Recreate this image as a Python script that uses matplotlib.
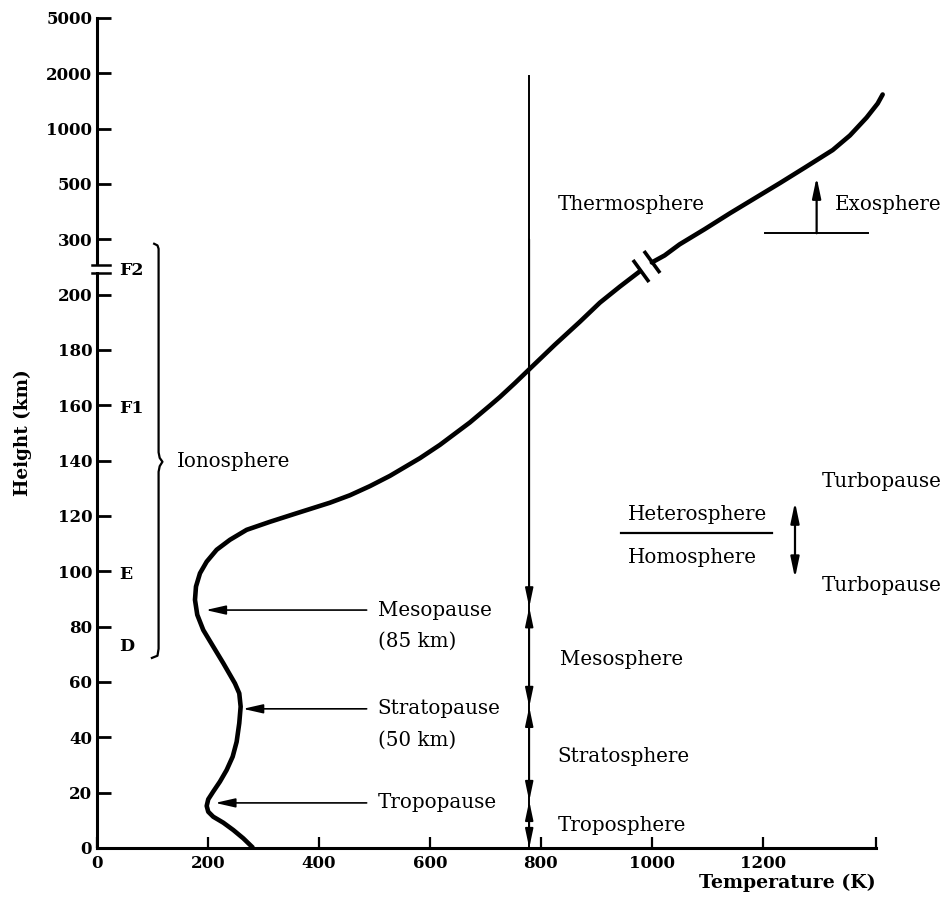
import numpy as np
import matplotlib
matplotlib.use('Agg')
import matplotlib.pyplot as plt
from matplotlib.markers import MarkerStyle
from matplotlib.transforms import Affine2D
from matplotlib.patches import Rectangle

# ---------------- data ----------------
height_ticks = [0, 20, 40, 60, 80, 100, 120, 140, 160, 180, 200, 300, 500, 1000, 2000, 5000]
height_labels = [str(v) for v in height_ticks]
temp_ticks = [0, 200, 400, 600, 800, 1000, 1200]
temp_labels = [str(v) for v in temp_ticks]

# compressed height axis: km -> axis position
scale_km = [0, 200, 300, 500, 1000, 2000, 5000]
scale_pos = [0, 10, 11, 12, 13, 14, 15]

# temperature profile, lower part (below the curve break)
low_T = [281.6, 263.6, 245.6, 227.6, 209.5, 200.5, 197.7, 200.5, 209.5, 221.6, 233.7,
         244.5, 251.7, 256.4, 258.9, 256.4, 248.6, 227.6, 209.5, 191.5, 180.7, 176.6,
         178.4, 185.6, 197.7, 215.7, 239.6, 269.7, 311.7, 356.8, 419.8, 455.9, 491.9,
         527.9, 582, 618, 672, 708.1, 726.1, 753, 778.4, 825.2, 870.3, 906.3, 942.3,
         980.2]
low_km = [0, 3.5, 6.5, 9.15, 11.3, 13.1, 15.2, 17.6, 20.4, 24, 28.2,
          33, 38.4, 45.1, 51.1, 55.9, 59.5, 66.8, 72.8, 78.8, 84.3, 89.7,
          94.5, 99.3, 103.5, 107.8, 111.4, 115, 117.9, 120.8, 124.8, 127.5, 130.8,
          134.5, 140.9, 145.7, 153.8, 159.9, 163, 168, 172.9, 181.9, 190.2, 197.1, 214.5,
          243.6]
# temperature profile, upper part (above the break)
up_T = [1000, 1023, 1050, 1095, 1141, 1186, 1231, 1276, 1326, 1357, 1387, 1407, 1416]
up_km = [258.2, 270.9, 290.9, 336.4, 394.5, 449, 508.8, 649, 807, 938.6, 1200, 1454.5, 1618]

line_T = 779            # vertical reference line
line_top = 1950
layer_bounds = [87, 51, 17, 0]   # arrow meeting points on the vertical line

# ---------------- figure ----------------
W, H = 950, 909
fig = plt.figure(figsize=(W / 100, H / 100), dpi=100)
ax = fig.add_axes([97 / W, 61 / H, (876 - 97) / W, (848 - 18) / H])

def fwd(h):
    h = np.asarray(h, dtype=float)
    return np.interp(h, scale_km, scale_pos)

def inv(p):
    p = np.asarray(p, dtype=float)
    return np.interp(p, scale_pos, scale_km)

ax.set_yscale('function', functions=(fwd, inv))
ax.set_ylim(0, 5000)
ax.set_xlim(0, 1404)

FONT = 'DejaVu Serif'
plt.rcParams['font.family'] = FONT
FS = 14.3

for s in ['top', 'right']:
    ax.spines[s].set_visible(False)
for s in ['left', 'bottom']:
    ax.spines[s].set_linewidth(2.2)

ax.set_yticks(height_ticks)
ax.set_yticklabels(height_labels, family=FONT, fontweight='bold', fontsize=12)
ax.set_xticks(temp_ticks + [1404])
ax.set_xticklabels(temp_labels + [''], family=FONT, fontweight='bold', fontsize=12)
ax.yaxis.set_minor_locator(matplotlib.ticker.NullLocator())
ax.tick_params(axis='y', direction='in', length=10, width=2, pad=3.5)
ax.tick_params(axis='x', direction='in', length=8, width=1.6, pad=5)

ax.set_ylabel('Height (km)', family=FONT, fontweight='bold', fontsize=13.2, labelpad=10)
ax.text(1.0, -0.042, 'Temperature (K)', transform=ax.transAxes, ha='right', va='center',
        family=FONT, fontweight='bold', fontsize=13.6)

# temperature curve
ax.plot(low_T, low_km, color='black', lw=3.3, solid_capstyle='butt',
        solid_joinstyle='round', clip_on=False)
ax.plot(up_T, up_km, color='black', lw=3.3, solid_capstyle='round',
        solid_joinstyle='round', clip_on=False)

# break marks on curve
def disp(t, h):
    return ax.transData.transform((t, h))
p1 = disp(low_T[-1], low_km[-1])
p2 = disp(up_T[0], up_km[0])
ang = np.degrees(np.arctan2(p2[1] - p1[1], p2[0] - p1[0]))
mk = MarkerStyle('|', transform=Affine2D().rotate_deg(ang))
ax.plot([low_T[-1], up_T[0]], [low_km[-1], up_km[0]], linestyle='none', marker=mk,
        markersize=19, markeredgewidth=2.6, color='black', clip_on=False)

# y-axis break
ax.add_patch(Rectangle((-12, 241), 24, 13, facecolor='white', edgecolor='none',
                       zorder=5, clip_on=False))
for hb in (240, 254.5):
    ax.plot([-9, 23], [hb, hb], color='black', lw=1.8, clip_on=False, zorder=6)

# vertical line with arrows
ax.plot([line_T, line_T], [0, line_top], color='black', lw=1.4)
hs = '-|>,head_length=0.95,head_width=0.2'
hd = '<|-|>,head_length=0.95,head_width=0.2'
ax.annotate('', xy=(line_T, layer_bounds[0]), xytext=(line_T, 300),
            arrowprops=dict(arrowstyle=hs, color='black', lw=1.3, shrinkA=0, shrinkB=0,
                            mutation_scale=12))
for a, b in zip(layer_bounds[:-1], layer_bounds[1:]):
    ax.annotate('', xy=(line_T, b), xytext=(line_T, a),
                arrowprops=dict(arrowstyle=hd, color='black', lw=1.3, shrinkA=0, shrinkB=0,
                                mutation_scale=12))

# pause arrows
pauses = [('Mesopause', '(85 km)', 86, 196), ('Stratopause', '(50 km)', 50.3, 263),
          ('Tropopause', None, 16.3, 213)]
for name, sub, km, tip in pauses:
    ax.annotate('', xy=(tip, km), xytext=(486, km),
                arrowprops=dict(arrowstyle='-|>,head_length=1.1,head_width=0.25',
                                color='black', lw=1.2, shrinkA=0, shrinkB=0,
                                mutation_scale=11))
    ax.text(506, km, name, ha='left', va='center', family=FONT, fontsize=FS)
    if sub:
        ax.text(506, km - 11.2, sub, ha='left', va='center', family=FONT, fontsize=FS)

txt = dict(family=FONT, fontsize=FS, va='center', ha='left')
ax.text(830, 427, 'Thermosphere', **txt)
ax.text(834, 68, 'Mesosphere', **txt)
ax.text(830, 33, 'Stratosphere', **txt)
ax.text(830, 8.3, 'Troposphere', **txt)
ax.text(1330, 427, 'Exosphere', **txt)
ax.text(957, 120.4, 'Heterosphere', **txt)
ax.text(957, 104.9, 'Homosphere', **txt)
ax.text(1306, 132.4, 'Turbopause', **txt)
ax.text(1306, 95, 'Turbopause', **txt)
ax.text(144, 139.6, 'Ionosphere', **txt)

# exosphere marker
ax.plot([1204, 1389], [322, 322], color='black', lw=1.4, clip_on=False)
ax.annotate('', xy=(1297, 561), xytext=(1297, 322),
            arrowprops=dict(arrowstyle=hs, color='black', lw=1.6, shrinkA=0, shrinkB=0,
                            mutation_scale=13))
# hetero / homosphere
ax.plot([944, 1216], [113.9, 113.9], color='black', lw=1.6)
ax.annotate('', xy=(1258, 125), xytext=(1258, 97.6),
            arrowprops=dict(arrowstyle=hd, color='black', lw=1.6, shrinkA=0, shrinkB=0,
                            mutation_scale=13))

# ionosphere layer labels
for lab, km in [('F2', 244), ('F1', 159), ('E', 98.7), ('D', 72.7)]:
    ax.text(40, km, lab, family=FONT, fontweight='bold', fontsize=12.5, va='center', ha='left')

# ionosphere brace
brace_T = [103, 109, 111, 111, 113, 118, 113, 111, 111, 109, 99]
brace_km = [292, 289, 283, 143, 141, 139.6, 138, 136, 72, 69.5, 68.7]
ax.plot(brace_T, brace_km, color='black', lw=1.6, solid_joinstyle='round')

fig.savefig('out.png', dpi=100)
